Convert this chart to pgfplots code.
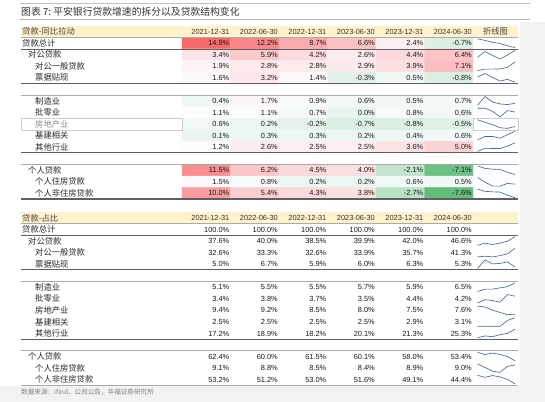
\documentclass[border=0pt]{standalone}
\usepackage{pgfplots}
\pgfplotsset{compat=1.18}
\usepackage{fontspec}
\setmainfont{Liberation Sans}
\newfontfamily\cjk{Noto Sans CJK SC}
\definecolor{hdr}{RGB}{255,242,204}
\definecolor{spk}{RGB}{70,105,160}
\definecolor{bgg}{RGB}{242,242,242}
\definecolor{ldark}{RGB}{95,95,95}
\definecolor{llight}{RGB}{170,170,170}
\definecolor{txt}{RGB}{25,25,25}
\definecolor{labc}{RGB}{40,40,40}
\tikzset{
  num/.style={anchor=east, inner sep=0pt, text=txt, font=\fontsize{7.4bp}{9bp}\selectfont},
  lab/.style={anchor=west, inner sep=0pt, text=labc, font=\cjk\fontsize{8.3bp}{10bp}\selectfont},
}
\newcommand{\vals}[7]{%
  \node[num] at (axis cs:229.5,#1) {#2\%};
  \node[num] at (axis cs:278,#1) {#3\%};
  \node[num] at (axis cs:326.5,#1) {#4\%};
  \node[num] at (axis cs:375,#1) {#5\%};
  \node[num] at (axis cs:423.5,#1) {#6\%};
  \node[num] at (axis cs:472,#1) {#7\%};}
\newcommand{\lab}[3]{\node[lab] at (axis cs:#1,#2) {#3};}
\newcommand{\spark}[4]{%
  \addplot[spk, line width=0.65bp, no markers] table[header=false, row sep=\\,
    x expr={477.5+\coordindex*7.5},
    y expr={#1+4.3-(\thisrowno{0}-(#2))/((#3)-(#2))*8.6}] {#4};}
\newcommand{\hrow}[2]{\draw[#2] (axis cs:21,#1) -- (axis cs:518,#1);}
\newcommand{\header}[2]{%
  \fill[hdr] (axis cs:21,#1-5.75) rectangle (axis cs:518,#1+5.75);
  \draw[llight, line width=0.5bp] (axis cs:21,#1+5.75) -- (axis cs:518,#1+5.75);
  \node[lab, text=black!75] at (axis cs:22,#1) {#2};
  \node[num, text=black!80] at (axis cs:229.5,#1) {2021-12-31};
  \node[num, text=black!80] at (axis cs:278,#1) {2022-06-30};
  \node[num, text=black!80] at (axis cs:326.5,#1) {2022-12-31};
  \node[num, text=black!80] at (axis cs:375,#1) {2023-06-30};
  \node[num, text=black!80] at (axis cs:423.5,#1) {2023-12-31};
  \node[num, text=black!80] at (axis cs:472,#1) {2024-06-30};}
\begin{document}
\begin{tikzpicture}
\begin{axis}[width=545bp, height=402bp, scale only axis,
  xmin=0, xmax=545, ymin=0, ymax=402, y dir=reverse,
  hide axis, clip=false,
  colormap={div}{rgb255(0cm)=(99,190,123); rgb255(8.75cm)=(252,252,255); rgb255(22.5cm)=(248,105,107)},
  point meta min=-7.6, point meta max=14.9]
% background
\fill[white] (axis cs:0,0) rectangle (axis cs:545,402);
\fill[bgg] (axis cs:520,22) rectangle (axis cs:545,402);
\fill[bgg] (axis cs:0,386) rectangle (axis cs:545,402);
\draw[black!25, line width=0.6bp] (axis cs:20,3.5) -- (axis cs:530,3.5);
\draw[black!30, line width=0.6bp] (axis cs:20,19.5) -- (axis cs:530,19.5);
\node[anchor=west, inner sep=0pt, text=black!80, font=\cjk\fontsize{9.8bp}{11bp}\selectfont] at (axis cs:21,12) {图表 7:\ 平安银行贷款增速的拆分以及贷款结构变化};

% ---------- upper table: heat-map cells ----------
\addplot[matrix plot*, mesh/cols=6, point meta=explicit] table[meta=v] {
x y v
206.25 43.2 14.9
254.75 43.2 12.2
303.25 43.2 8.7
351.75 43.2 6.6
400.25 43.2 2.4
448.75 43.2 -0.7
206.25 54.75 3.4
254.75 54.75 5.9
303.25 54.75 4.2
351.75 54.75 2.6
400.25 54.75 4.4
448.75 54.75 6.4
206.25 66.3 1.9
254.75 66.3 2.8
303.25 66.3 2.8
351.75 66.3 2.9
400.25 66.3 3.9
448.75 66.3 7.1
206.25 77.85 1.6
254.75 77.85 3.2
303.25 77.85 1.4
351.75 77.85 -0.3
400.25 77.85 0.5
448.75 77.85 -0.8
};
\addplot[matrix plot*, mesh/cols=6, point meta=explicit] table[meta=v] {
x y v
206.25 100.95 0.4
254.75 100.95 1.7
303.25 100.95 0.9
351.75 100.95 0.6
400.25 100.95 0.5
448.75 100.95 0.7
206.25 112.5 1.1
254.75 112.5 1.1
303.25 112.5 0.7
351.75 112.5 0.0
400.25 112.5 0.8
448.75 112.5 0.6
206.25 124.05 0.6
254.75 124.05 0.2
303.25 124.05 -0.2
351.75 124.05 -0.7
400.25 124.05 -0.8
448.75 124.05 -0.5
206.25 135.6 0.1
254.75 135.6 0.3
303.25 135.6 0.3
351.75 135.6 0.2
400.25 135.6 0.4
448.75 135.6 0.6
206.25 147.15 1.2
254.75 147.15 2.6
303.25 147.15 2.5
351.75 147.15 2.5
400.25 147.15 3.6
448.75 147.15 5.0
};
\addplot[matrix plot*, mesh/cols=6, point meta=explicit] table[meta=v] {
x y v
206.25 170.25 11.5
254.75 170.25 6.2
303.25 170.25 4.5
351.75 170.25 4.0
400.25 170.25 -2.1
448.75 170.25 -7.1
206.25 181.8 1.5
254.75 181.8 0.8
303.25 181.8 0.2
351.75 181.8 0.2
400.25 181.8 0.6
448.75 181.8 0.5
206.25 193.35 10.0
254.75 193.35 5.4
303.25 193.35 4.3
351.75 193.35 3.8
400.25 193.35 -2.7
448.75 193.35 -7.6
};

% ---------- upper table: header, lines, text ----------
\header{31.65}{贷款-同比拉动}
\node[lab, anchor=center, text=black!75] at (axis cs:495.5,31.65) {折线图};
\hrow{49.0}{ldark, line width=0.8bp}
\hrow{83.6}{ldark, line width=1.1bp}
\hrow{95.2}{llight, line width=0.8bp}
\hrow{152.9}{ldark, line width=1.1bp}
\hrow{164.5}{llight, line width=0.8bp}
\hrow{199.1}{ldark, line width=1.5bp}
\draw[black!20, line width=0.5bp] (axis cs:21,118.3) rectangle (axis cs:182,129.8);
\draw[black!20, line width=0.5bp] (axis cs:473,118.3) rectangle (axis cs:518,129.8);

\lab{22}{43.2}{贷款总计}
\lab{28}{54.75}{对公贷款}
\lab{35}{66.3}{对公一般贷款}
\lab{35}{77.85}{票据贴现}
\lab{35}{100.95}{制造业}
\lab{35}{112.5}{批零业}
\node[lab, text=black!45] at (axis cs:35,124.05) {房地产业};
\lab{35}{135.6}{基建相关}
\lab{35}{147.15}{其他行业}
\lab{28}{170.25}{个人贷款}
\lab{35}{181.8}{个人住房贷款}
\lab{35}{193.35}{个人非住房贷款}

\vals{43.2}{14.9}{12.2}{8.7}{6.6}{2.4}{-0.7}
\vals{54.75}{3.4}{5.9}{4.2}{2.6}{4.4}{6.4}
\vals{66.3}{1.9}{2.8}{2.8}{2.9}{3.9}{7.1}
\vals{77.85}{1.6}{3.2}{1.4}{-0.3}{0.5}{-0.8}
\vals{100.95}{0.4}{1.7}{0.9}{0.6}{0.5}{0.7}
\vals{112.5}{1.1}{1.1}{0.7}{0.0}{0.8}{0.6}
\vals{124.05}{0.6}{0.2}{-0.2}{-0.7}{-0.8}{-0.5}
\vals{135.6}{0.1}{0.3}{0.3}{0.2}{0.4}{0.6}
\vals{147.15}{1.2}{2.6}{2.5}{2.5}{3.6}{5.0}
\vals{170.25}{11.5}{6.2}{4.5}{4.0}{-2.1}{-7.1}
\vals{181.8}{1.5}{0.8}{0.2}{0.2}{0.6}{0.5}
\vals{193.35}{10.0}{5.4}{4.3}{3.8}{-2.7}{-7.6}

\spark{43.2}{-0.7}{14.9}{14.9\\12.2\\8.7\\6.6\\2.4\\-0.7\\}
\spark{54.75}{2.6}{6.4}{3.4\\5.9\\4.2\\2.6\\4.4\\6.4\\}
\spark{66.3}{1.9}{7.1}{1.9\\2.8\\2.8\\2.9\\3.9\\7.1\\}
\spark{77.85}{-0.8}{3.2}{1.6\\3.2\\1.4\\-0.3\\0.5\\-0.8\\}
\spark{100.95}{0.4}{1.7}{0.4\\1.7\\0.9\\0.6\\0.5\\0.7\\}
\spark{112.5}{0.0}{1.1}{1.1\\1.1\\0.7\\0.0\\0.8\\0.6\\}
\spark{124.05}{-0.8}{0.6}{0.6\\0.2\\-0.2\\-0.7\\-0.8\\-0.5\\}
\spark{135.6}{0.1}{0.6}{0.1\\0.3\\0.3\\0.2\\0.4\\0.6\\}
\spark{147.15}{1.2}{5.0}{1.2\\2.6\\2.5\\2.5\\3.6\\5.0\\}
\spark{170.25}{-7.1}{11.5}{11.5\\6.2\\4.5\\4.0\\-2.1\\-7.1\\}
\spark{181.8}{0.2}{1.5}{1.5\\0.8\\0.2\\0.2\\0.6\\0.5\\}
\spark{193.35}{-7.6}{10.0}{10.0\\5.4\\4.3\\3.8\\-2.7\\-7.6\\}

% ---------- lower table ----------
\header{217.95}{贷款-占比}
\hrow{235.3}{ldark, line width=0.8bp}
\hrow{269.9}{ldark, line width=1.1bp}
\hrow{281.5}{llight, line width=0.8bp}
\hrow{339.2}{ldark, line width=1.1bp}
\hrow{350.8}{llight, line width=0.8bp}
\hrow{385.4}{llight, line width=0.8bp}

\lab{22}{229.5}{贷款总计}
\lab{28}{241.05}{对公贷款}
\lab{35}{252.6}{对公一般贷款}
\lab{35}{264.15}{票据贴现}
\lab{35}{287.25}{制造业}
\lab{35}{298.8}{批零业}
\lab{35}{310.35}{房地产业}
\lab{35}{321.9}{基建相关}
\lab{35}{333.45}{其他行业}
\lab{28}{356.55}{个人贷款}
\lab{35}{368.1}{个人住房贷款}
\lab{35}{379.65}{个人非住房贷款}

\vals{229.5}{100.0}{100.0}{100.0}{100.0}{100.0}{100.0}
\vals{241.05}{37.6}{40.0}{38.5}{39.9}{42.0}{46.6}
\vals{252.6}{32.6}{33.3}{32.6}{33.9}{35.7}{41.3}
\vals{264.15}{5.0}{6.7}{5.9}{6.0}{6.3}{5.3}
\vals{287.25}{5.1}{5.5}{5.5}{5.7}{5.9}{6.5}
\vals{298.8}{3.4}{3.8}{3.7}{3.5}{4.4}{4.2}
\vals{310.35}{9.4}{9.2}{8.5}{8.0}{7.5}{7.6}
\vals{321.9}{2.5}{2.5}{2.5}{2.5}{2.9}{3.1}
\vals{333.45}{17.2}{18.9}{18.2}{20.1}{21.3}{25.3}
\vals{356.55}{62.4}{60.0}{61.5}{60.1}{58.0}{53.4}
\vals{368.1}{9.1}{8.8}{8.5}{8.4}{8.9}{9.0}
\vals{379.65}{53.2}{51.2}{53.0}{51.6}{49.1}{44.4}

\spark{241.05}{37.6}{46.6}{37.6\\40.0\\38.5\\39.9\\42.0\\46.6\\}
\spark{252.6}{32.6}{41.3}{32.6\\33.3\\32.6\\33.9\\35.7\\41.3\\}
\spark{264.15}{5.0}{6.7}{5.0\\6.7\\5.9\\6.0\\6.3\\5.3\\}
\spark{287.25}{5.1}{6.5}{5.1\\5.5\\5.5\\5.7\\5.9\\6.5\\}
\spark{298.8}{3.4}{4.4}{3.4\\3.8\\3.7\\3.5\\4.4\\4.2\\}
\spark{310.35}{7.5}{9.4}{9.4\\9.2\\8.5\\8.0\\7.5\\7.6\\}
\spark{321.9}{2.5}{3.1}{2.5\\2.5\\2.5\\2.5\\2.9\\3.1\\}
\spark{333.45}{17.2}{25.3}{17.2\\18.9\\18.2\\20.1\\21.3\\25.3\\}
\spark{356.55}{53.4}{62.4}{62.4\\60.0\\61.5\\60.1\\58.0\\53.4\\}
\spark{368.1}{8.4}{9.1}{9.1\\8.8\\8.5\\8.4\\8.9\\9.0\\}
\spark{379.65}{44.4}{53.2}{53.2\\51.2\\53.0\\51.6\\49.1\\44.4\\}

\node[anchor=west, inner sep=0pt, text=black!50, font=\cjk\fontsize{6.6bp}{8bp}\selectfont] at (axis cs:21,392) {数据来源：ifind，公司公告，华福证券研究所};
\end{axis}
\end{tikzpicture}
\end{document}
